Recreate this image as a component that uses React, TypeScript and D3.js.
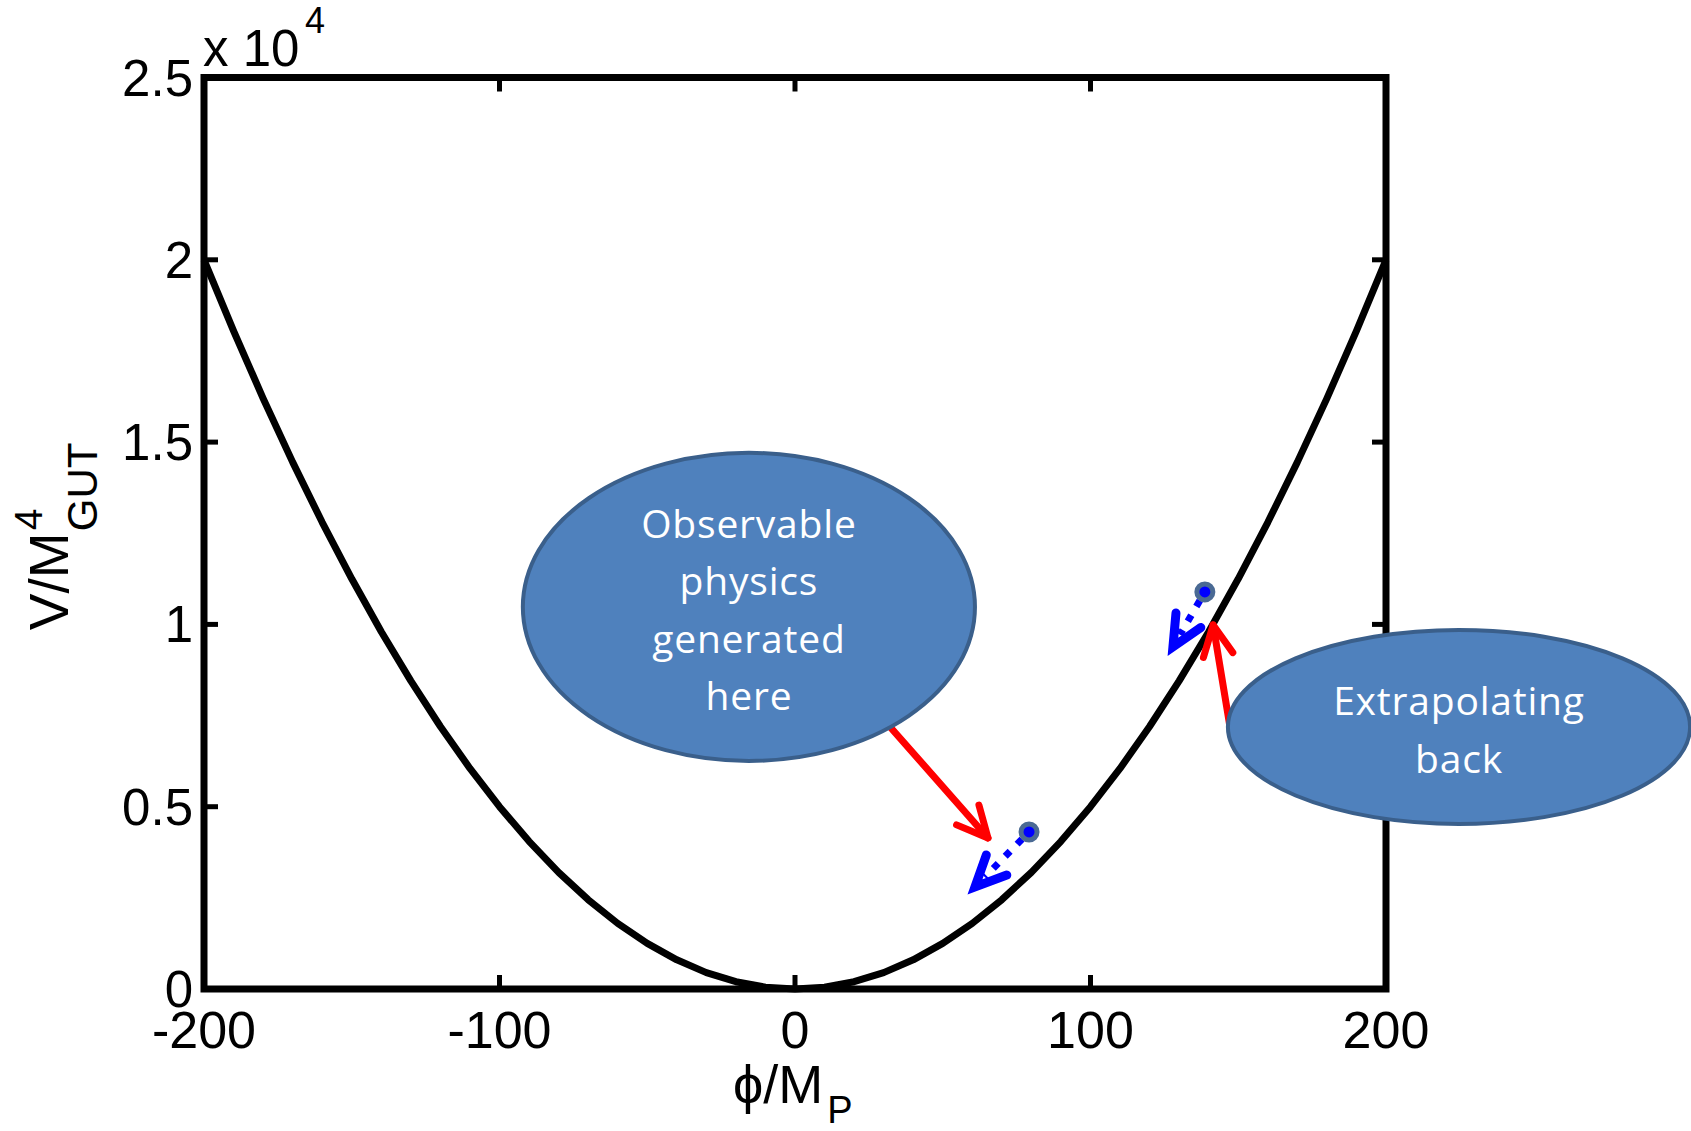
import React from 'react';
import * as d3 from 'd3';

// potential curve V(phi) (units of 1e4 shown on axis)
const phiValues = [-200, -190, -180, -170, -160, -150, -140, -130, -120, -110, -100, -90, -80, -70, -60, -50, -40, -30, -20, -10, 0,
    10, 20, 30, 40, 50, 60, 70, 80, 90, 100, 110, 120, 130, 140, 150, 160, 170, 180, 190, 200];
const potentialValues = [20000, 18050, 16200, 14450, 12800, 11250, 9800, 8450, 7200, 6050, 5000, 4050, 3200, 2450, 1800, 1250, 800, 450, 200, 50, 0,
    50, 200, 450, 800, 1250, 1800, 2450, 3200, 4050, 5000, 6050, 7200, 8450, 9800, 11250, 12800, 14450, 16200, 18050, 20000];

const xTicks = [-200, -100, 0, 100, 200];
const yTicks = [0, 5000, 10000, 15000, 20000, 25000];
const yTickLabels = ['0', '0.5', '1', '1.5', '2', '2.5'];

// annotation bubbles (data units)
const bubbleText = [['Observable', 'physics', 'generated', 'here'], ['Extrapolating', 'back']];
const bubblePhi = [-15.6, 224.7];
const bubbleV = [10480, 7188];
const bubbleRPhi = [76.5, 78.2];
const bubbleRV = [4225, 2661];

// red arrows: from -> to
const redFrom = [[32.5, 7160], [147.2, 7188]];
const redTo = [[65.3, 4143], [141.5, 9986]];

// blue points with dotted arrows
const bluePoint = [[79.2, 4307], [138.7, 10892]];
const blueTip = [[60.9, 2798], [127.9, 9383]];

const W = 1691;
const H = 1131;
const left = 204, right = 1386, top = 77.5, bottom = 989;
const font = '"Liberation Sans", Arial, sans-serif';

function arrowHead(x0, y0, x1, y1, len, ang) {
    const a = Math.atan2(y0 - y1, x0 - x1);
    const l1 = [x1 + len * Math.cos(a + ang), y1 + len * Math.sin(a + ang)];
    const l2 = [x1 + len * Math.cos(a - ang), y1 + len * Math.sin(a - ang)];
    return `M${l1[0]},${l1[1]}L${x1},${y1}L${l2[0]},${l2[1]}`;
}

export default function App() {
    const x = d3.scaleLinear().domain([-200, 200]).range([left, right]);
    const y = d3.scaleLinear().domain([0, 25000]).range([bottom, top]);
    const line = d3.line<number>()
        .x((d, i) => x(phiValues[i]))
        .y(d => y(d));
    const tickLen = 14;
    const deg = Math.PI / 180;

    return (
        <svg width={W} height={H} style={{ position: 'absolute', left: 0, top: 0, display: 'block', background: '#fff' }}>
            {/* curve */}
            <path d={line(potentialValues) || ''} fill="none" stroke="#000" strokeWidth={7} strokeLinejoin="round" />

            {/* ticks */}
            {xTicks.map(t => (
                <g key={'xt' + t}>
                    <line x1={x(t)} x2={x(t)} y1={bottom} y2={bottom - tickLen} stroke="#000" strokeWidth={5} />
                    <line x1={x(t)} x2={x(t)} y1={top} y2={top + tickLen} stroke="#000" strokeWidth={5} />
                    <text x={x(t)} y={bottom + 59} textAnchor="middle" fontFamily={font} fontSize={52}>{t}</text>
                </g>
            ))}
            {yTicks.map((t, i) => (
                <g key={'yt' + t}>
                    <line x1={left} x2={left + tickLen} y1={y(t)} y2={y(t)} stroke="#000" strokeWidth={5} />
                    <line x1={right} x2={right - tickLen} y1={y(t)} y2={y(t)} stroke="#000" strokeWidth={5} />
                    <text x={left - 11} y={y(t) + 18} textAnchor="end" fontFamily={font} fontSize={51}>{yTickLabels[i]}</text>
                </g>
            ))}

            {/* frame */}
            <rect x={left} y={top} width={right - left} height={bottom - top} fill="none" stroke="#000" strokeWidth={7} />

            {/* exponent */}
            <text x={left - 1} y={top - 12} fontFamily={font} fontSize={51}>x 10</text>
            <text x={left + 101} y={top - 45} fontFamily={font} fontSize={36}>4</text>

            {/* axis labels */}
            <text x={x(0) - 62} y={bottom + 114} fontFamily={font} fontSize={54}>
                ϕ/M<tspan fontSize={38} dx={4} dy={20}>P</tspan>
            </text>
            <g transform={`translate(68, ${(top + bottom) / 2 + 97}) rotate(-90)`} fontFamily={font}>
                <text x={0} y={0} fontSize={55}>V/M</text>
                <text x={100} y={-26} fontSize={39}>4</text>
                <text x={99} y={29} fontSize={42}>GUT</text>
            </g>

            {/* red arrows */}
            {redFrom.map((f, i) => {
                const x0 = x(f[0]), y0 = y(f[1]);
                const x1 = x(redTo[i][0]), y1 = y(redTo[i][1]);
                return (
                    <g key={'red' + i} stroke="#ff0000" strokeWidth={7} strokeLinecap="round" strokeLinejoin="round" fill="none">
                        <line x1={x0} y1={y0} x2={x1} y2={y1} />
                        <path d={arrowHead(x0, y0, x1, y1, 34, 26 * deg)} />
                    </g>
                );
            })}

            {/* bubbles */}
            {bubbleText.map((lines, i) => {
                const cx = x(bubblePhi[i]);
                const cy = y(bubbleV[i]);
                const rx = x(bubbleRPhi[i]) - x(0);
                const ry = y(0) - y(bubbleRV[i]);
                return (
                    <g key={'b' + i}>
                        <ellipse cx={cx} cy={cy} rx={rx} ry={ry} fill="#4f81bd" stroke="#3a5f8b" strokeWidth={4} />
                        {lines.map((s, j) => (
                            <text key={j} x={cx} y={cy + 17 + (j - (lines.length - 1) / 2) * 57.5}
                                textAnchor="middle" fill="#ffffff" fontFamily='"Open Sans", sans-serif' fontSize={39} letterSpacing={0.8}>{s}</text>
                        ))}
                    </g>
                );
            })}

            {/* blue points with dotted arrows */}
            {bluePoint.map((p, i) => {
                const x0 = x(p[0]), y0 = y(p[1]);
                const x1 = x(blueTip[i][0]), y1 = y(blueTip[i][1]);
                const a = Math.atan2(y1 - y0, x1 - x0);
                const sx = x0 + 10 * Math.cos(a), sy = y0 + 10 * Math.sin(a);
                const ex = x1 - 14 * Math.cos(a), ey = y1 - 14 * Math.sin(a);
                return (
                    <g key={'blue' + i}>
                        <line x1={sx} y1={sy} x2={ex} y2={ey} stroke="#0000ff" strokeWidth={7} strokeDasharray="7,10" />
                        <path d={arrowHead(x0, y0, x1, y1, 34, 25 * deg)} fill="none" stroke="#0000ff" strokeWidth={9}
                            strokeLinejoin="miter" strokeLinecap="round" />
                        <circle cx={x0} cy={y0} r={8} fill="#0000ff" stroke="#4a6a94" strokeWidth={5} />
                    </g>
                );
            })}
        </svg>
    );
}
